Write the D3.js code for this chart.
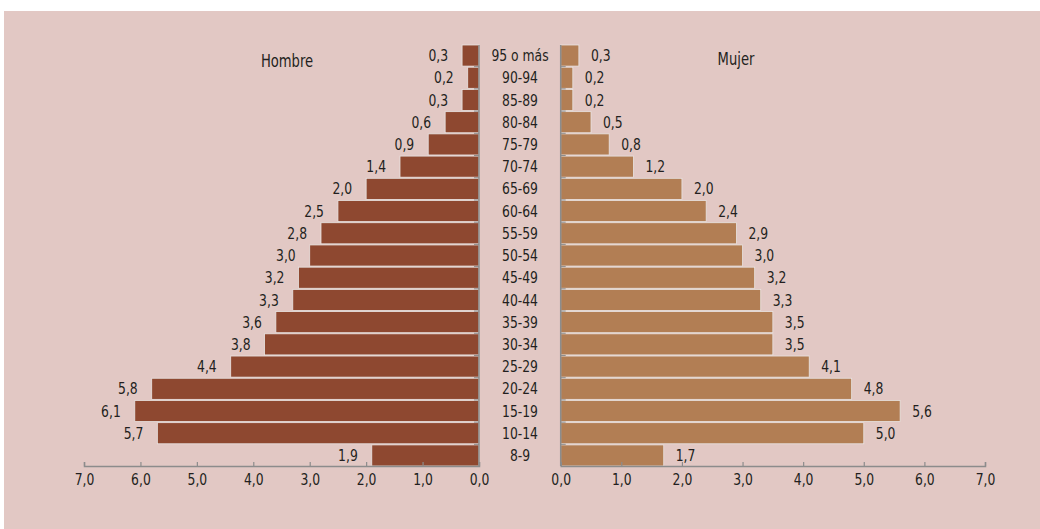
<!DOCTYPE html>
<html><head><meta charset="utf-8">
<script src="https://cdn.jsdelivr.net/npm/d3@7"></script>
<style>
html,body{margin:0;padding:0;background:#fff;}
svg{display:block;}
text{font-family:"Liberation Sans Narrow","DejaVu Sans Condensed","Roboto Condensed",sans-serif;fill:#231f20;}
</style></head>
<body>
<svg id="chart" width="1040" height="529"></svg>
<script>
const categories = ["95 o más","90-94","85-89","80-84","75-79","70-74","65-69","60-64","55-59","50-54","45-49","40-44","35-39","30-34","25-29","20-24","15-19","10-14","8-9"];
const hombre = [0.3,0.2,0.3,0.6,0.9,1.4,2.0,2.5,2.8,3.0,3.2,3.3,3.6,3.8,4.4,5.8,6.1,5.7,1.9];
const mujer  = [0.3,0.2,0.2,0.5,0.8,1.2,2.0,2.4,2.9,3.0,3.2,3.3,3.5,3.5,4.1,4.8,5.6,5.0,1.7];
const tickValues = [0,1,2,3,4,5,6,7];
const seriesNames = ["Hombre","Mujer"];

const loc = d3.formatLocale({decimal:",",thousands:".",grouping:[3],currency:["","€"]});
const fmt = loc.format(".1f");
const SX = 0.86;

const svg = d3.select("#chart");
svg.append("rect").attr("x",4).attr("y",11).attr("width",1036).attr("height",518).attr("fill","#e2c8c4");

const xL = d3.scaleLinear().domain([0,7]).range([479,84]);
const xR = d3.scaleLinear().domain([0,7]).range([560.7,985]);
const y = d3.scaleBand().domain(categories).range([45,466]).paddingInner(0.05);

const colL = "#8e4830", colR = "#b27e54";

// left bars
svg.append("g").selectAll("rect").data(categories).join("rect")
  .attr("x",(d,i)=>xL(hombre[i])).attr("y",d=>y(d))
  .attr("width",(d,i)=>xL(0)-xL(hombre[i])).attr("height",y.bandwidth())
  .attr("fill",colL).attr("stroke","#e9e4e2").attr("stroke-width",0.8);
svg.append("g").selectAll("rect").data(categories).join("rect")
  .attr("x",xR(0)).attr("y",d=>y(d))
  .attr("width",(d,i)=>xR(mujer[i])-xR(0)).attr("height",y.bandwidth())
  .attr("fill",colR).attr("stroke","#e9e4e2").attr("stroke-width",0.8);

const tr = (x,yy)=>`translate(${x},${yy}) scale(${SX},1)`;

// value labels
svg.append("g").selectAll("text").data(categories).join("text")
  .attr("transform",(d,i)=>tr(xL(hombre[i])-14, y(d)+y.bandwidth()/2))
  .attr("dy","0.35em").attr("text-anchor","end").attr("font-size",16)
  .text((d,i)=>fmt(hombre[i]));
svg.append("g").selectAll("text").data(categories).join("text")
  .attr("transform",(d,i)=>tr(xR(mujer[i])+12, y(d)+y.bandwidth()/2))
  .attr("dy","0.35em").attr("text-anchor","start").attr("font-size",16)
  .text((d,i)=>fmt(mujer[i]));

// category labels
svg.append("g").selectAll("text").data(categories).join("text")
  .attr("transform",d=>tr(520, y(d)+y.bandwidth()/2))
  .attr("dy","0.35em").attr("text-anchor","middle").attr("font-size",16)
  .text(d=>d);

// vertical axes
function vAxis(x, dir){
  const g = svg.append("g");
  g.append("line").attr("x1",x).attr("x2",x).attr("y1",y.range()[0]).attr("y2",y.range()[1])
    .attr("stroke","#8c8c8c").attr("stroke-width",1.5);
  g.selectAll("line.t").data(categories.slice(1)).join("line").attr("class","t")
    .attr("x1",x).attr("x2",x+dir*5)
    .attr("y1",d=>y(d)-y.step()*y.paddingInner()/2).attr("y2",d=>y(d)-y.step()*y.paddingInner()/2)
    .attr("stroke","#8c8c8c").attr("stroke-width",1);
}
vAxis(479,-1); vAxis(560.7,1);

// bottom axes
function styleAxis(g){
  g.select(".domain").attr("stroke","#8c8c8c").attr("stroke-width",1.5);
  g.selectAll(".tick line").attr("stroke","#8c8c8c").attr("stroke-width",1.2);
  g.selectAll(".tick text").attr("font-size",16).attr("fill","#231f20")
    .attr("font-family",null).attr("dy","0.71em").attr("y",8)
    .attr("transform",`scale(${SX},1)`);
}
svg.append("g").attr("transform","translate(0,466)")
  .call(d3.axisBottom(xL).tickValues(tickValues).tickFormat(fmt).tickSize(-4).tickSizeOuter(-4))
  .call(styleAxis);
svg.append("g").attr("transform","translate(0,466)")
  .call(d3.axisBottom(xR).tickValues(tickValues).tickFormat(fmt).tickSize(-4).tickSizeOuter(-4))
  .call(styleAxis);

// series titles
svg.append("text").attr("transform",tr(287,67)).attr("text-anchor","middle").attr("font-size",17).text(seriesNames[0]);
svg.append("text").attr("transform",tr(736,65)).attr("text-anchor","middle").attr("font-size",17).text(seriesNames[1]);
</script>
</body></html>
